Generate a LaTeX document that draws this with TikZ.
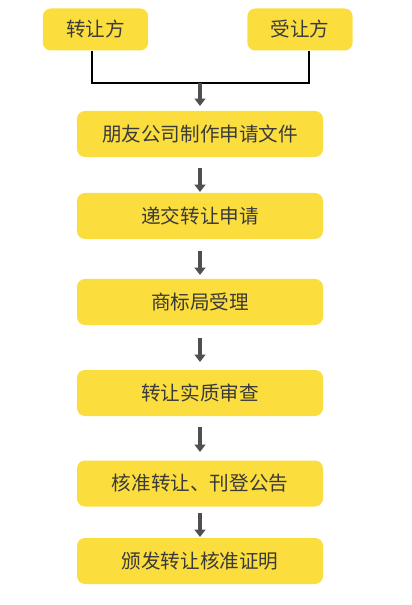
\documentclass[tikz,border=0pt]{standalone}
\usepackage{fontspec}
\newfontfamily\cjk{Noto Sans CJK SC}
\usetikzlibrary{arrows.meta}
\definecolor{boxfill}{HTML}{FBDD3D}
\definecolor{txt}{HTML}{3A3A3A}
\definecolor{arr}{HTML}{4F4F4F}
\begin{document}
\begin{tikzpicture}[x=0.75pt,y=-0.75pt,
  stepbox/.style={fill=boxfill,rounded corners=6pt,inner sep=0pt,text=txt,font=\cjk\fontsize{14.7}{16}\selectfont},
  flowarrow/.style={draw=arr,line width=2.3pt,-{Triangle[width=8pt,length=5.5pt]}},
  joinline/.style={draw=black,line width=0.9pt}]
\useasboundingbox (0,0) rectangle (411,605);
\node[stepbox,minimum width=79pt,minimum height=31.5pt] (a) at (95.5,29.5) {转让方};
\node[stepbox,minimum width=79pt,minimum height=31.5pt] (b) at (300,29.5) {受让方};
\node[stepbox,minimum width=184.5pt,minimum height=34.5pt] (s1) at (200,134) {朋友公司制作申请文件};
\node[stepbox,minimum width=184.5pt,minimum height=34.5pt] (s2) at (200,216) {递交转让申请};
\node[stepbox,minimum width=184.5pt,minimum height=34.5pt] (s3) at (200,302) {商标局受理};
\node[stepbox,minimum width=184.5pt,minimum height=34.5pt] (s4) at (200,393) {转让实质审查};
\node[stepbox,minimum width=184.5pt,minimum height=34.5pt] (s5) at (200,483.5) {核准转让、刊登公告};
\node[stepbox,minimum width=184.5pt,minimum height=34.5pt] (s6) at (200,561) {颁发转让核准证明};
\coordinate (j) at (200,83);
\draw[joinline] (a.south -| 92,0) |- (j) -| (b.south -| 309,0);
\draw[flowarrow] (j) -- (200,106);
\draw[flowarrow] (200,168) -- (200,192);
\draw[flowarrow] (200,251) -- (200,275);
\draw[flowarrow] (200,338) -- (200,362);
\draw[flowarrow] (200,427) -- (200,452);
\draw[flowarrow] (200,513) -- (200,537);
\end{tikzpicture}
\end{document}
